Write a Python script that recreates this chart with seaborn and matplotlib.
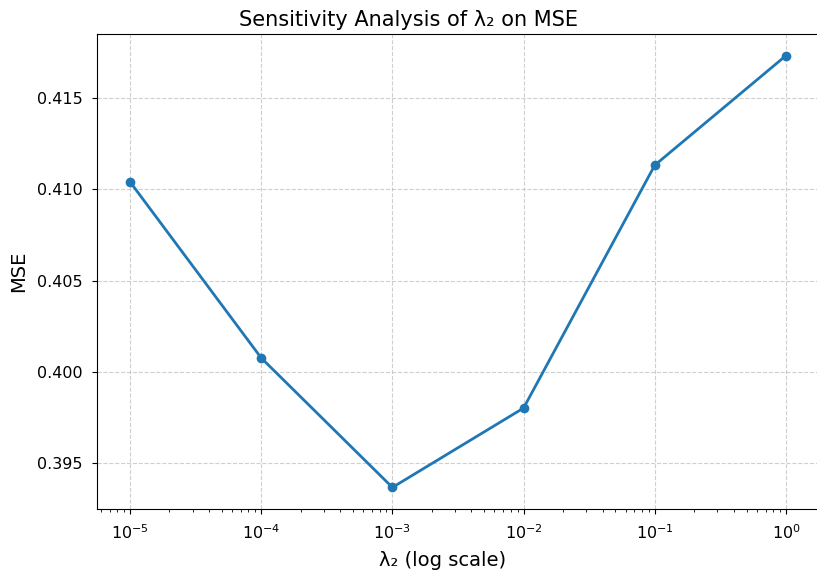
import matplotlib
matplotlib.use("Agg")
import matplotlib.pyplot as plt
import seaborn as sns
import pandas as pd

lambda2 = [1e-5, 1e-4, 1e-3, 1e-2, 1e-1, 1e0]
mse = [0.4104, 0.40077, 0.39369, 0.39803, 0.41131, 0.41730]

df = pd.DataFrame({"lambda2": lambda2, "mse": mse})

fig = plt.figure(figsize=(8.17, 5.73), dpi=100)
ax = fig.add_axes([97.2 / 817, (573 - 509) / 573, (818.8 - 97.2) / 817, (509 - 34) / 573])

sns.lineplot(data=df, x="lambda2", y="mse", ax=ax, marker="o", markersize=7,
             linewidth=2, color="#1f77b4", markeredgewidth=0)
ax.set_xscale("log")
ax.grid(True, linestyle="--", alpha=0.6)
ax.set_title("Sensitivity Analysis of λ₂ on MSE", fontsize=15, x=0.432)
ax.set_xlabel("λ₂ (log scale)", fontsize=14, labelpad=6)
ax.xaxis.label.set_x(0.479)
ax.set_ylabel("MSE", fontsize=14, labelpad=6)
ax.tick_params(axis="both", labelsize=11.5, pad=7)

fig.savefig("out.png", dpi=100)
